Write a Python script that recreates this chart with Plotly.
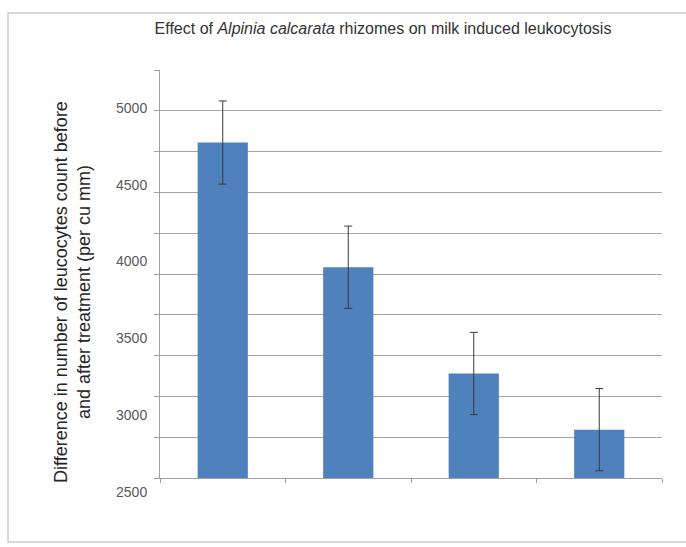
import plotly.graph_objects as go

# ---- data ----
groups = ["Group 1", "Group 2", "Group 3", "Group 4"]
mean_diff = [4770, 3960, 3270, 2905]
sem_diff = [270, 267, 267, 267]
tick_values = [2500, 3000, 3500, 4000, 4500, 5000]
tick_labels = ["2500", "3000", "3500", "4000", "4500", "5000"]

title_text = "Effect of <i>Alpinia calcarata</i> rhizomes on milk induced leukocytosis"
ytitle_text = "Difference in number of leucocytes count before<br>and after treatment (per cu mm)"

W, H = 686, 547
ML, MR, MT, MB = 160, 24, 70, 47
plot_h = H - MT - MB
plot_w = W - ML - MR
axis_bottom_px = 478

font_family = "Liberation Sans, Arial, sans-serif"

fig = go.Figure()
fig.add_trace(go.Bar(
    x=groups, y=mean_diff,
    marker=dict(color="#4F81BD", line=dict(width=0)),
    error_y=dict(type="data", array=sem_diff, visible=True,
                 color="#3a3a3a", thickness=1, width=4),
    showlegend=False,
))
# invisible trace carrying the labelled axis
fig.add_trace(go.Scatter(x=[None], y=[None], yaxis="y2", xaxis="x",
                         showlegend=False, hoverinfo="skip"))

lo, hi = 2591, 5241
fig.update_layout(
    width=W, height=H,
    margin=dict(l=ML, r=MR, t=MT, b=MB),
    paper_bgcolor="white", plot_bgcolor="rgba(0,0,0,0)",
    bargap=0.6,
    font=dict(family=font_family, color="#404040"),
    title=dict(text=title_text, xref="container", x=383 / W, xanchor="center",
               yref="container", y=1 - 28 / H, yanchor="middle",
               font=dict(size=16, color="#333333", family=font_family)),
    xaxis=dict(showticklabels=False, showline=True, linecolor="#a0a0a0",
               linewidth=1, ticks="outside", tickson="boundaries", ticklen=4,
               tickcolor="#a0a0a0", showgrid=False, zeroline=False),
    yaxis=dict(domain=[(H - MB - axis_bottom_px) / plot_h, 1],
               range=[lo, hi], tick0=lo, dtick=(hi - lo) / 10,
               showticklabels=False, showgrid=True, gridcolor="#a6a6a6",
               gridwidth=1, showline=True, linecolor="#a0a0a0", linewidth=1,
               ticks="outside", ticklen=5, tickcolor="#a0a0a0", zeroline=False),
    yaxis2=dict(domain=[0, 1], anchor="free", position=0, side="left",
                range=[2448, 5247], tickvals=tick_values, ticktext=tick_labels,
                showgrid=False, showline=False, zeroline=False,
                ticks="outside", ticklen=10, tickcolor="rgba(0,0,0,0)",
                tickfont=dict(size=14, color="#595959", family=font_family)),
)

fig.add_annotation(text=ytitle_text, xref="paper", yref="paper",
                   x=(72 - ML) / plot_w, y=(H - MB - 292) / plot_h,
                   xanchor="center", yanchor="middle", textangle=-90,
                   showarrow=False,
                   font=dict(size=18, color="#262626", family=font_family))

# chart frame
fig.add_shape(type="rect", xref="paper", yref="paper",
              x0=(8 - ML) / plot_w, x1=(692 - ML) / plot_w,
              y0=(H - MB - 542) / plot_h, y1=(H - MB - 13) / plot_h,
              line=dict(color="#cccccc", width=1.5), fillcolor="rgba(0,0,0,0)",
              layer="below")

fig.write_html("out.html",
               config={"displayModeBar": False},
               post_script="document.body.style.margin='0';document.body.style.overflow='hidden';")
